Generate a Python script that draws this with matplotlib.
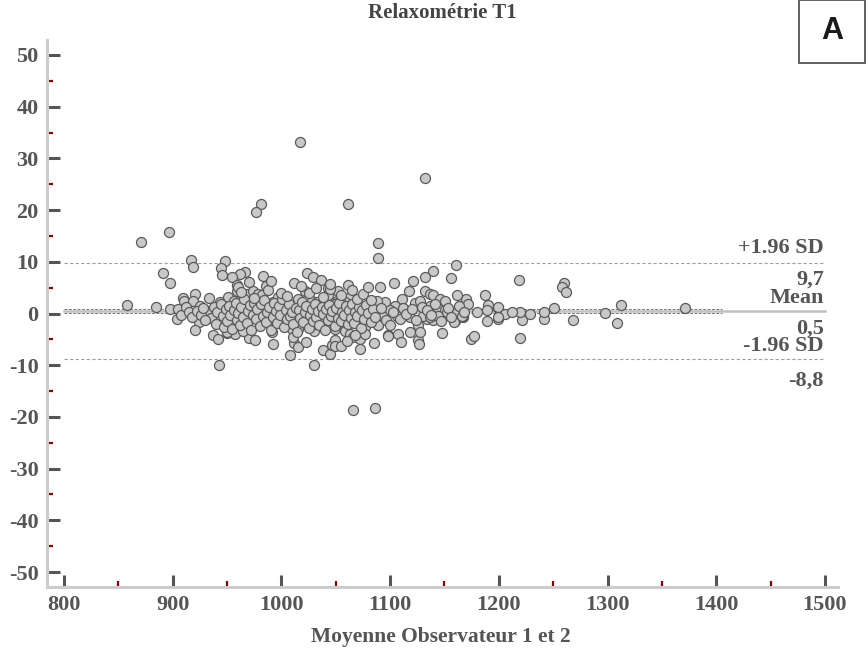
import matplotlib
matplotlib.use("Agg")
import matplotlib.pyplot as plt
from matplotlib.ticker import FixedLocator
from matplotlib.patches import Rectangle

# ---- data (mean of observers, difference) ----
mean_obs = [
    1017, 981, 976.6, 896.6, 870.8, 916.5, 918.9, 948, 944, 945, 890.8, 897.8, 966.5, 962, 955, 959,
    983, 985.8, 1011.6, 1023.8, 1029, 1036, 1042.5,
    1132, 1061.5, 1088.6, 1088.6, 1161, 1139.7, 1132.4, 1156, 1218.6, 1260, 1258.4, 1261.8, 1061.5,
    1090.4, 1103.9, 1120.7, 1117.4, 1052, 1187.5,
    858, 885, 897.5, 904, 924, 920.8, 942.6, 1030, 937.4, 942, 949.6, 957.3, 970, 976, 992.5, 1008,
    1011.8, 1015.5, 1022.6, 1038.6, 1044.7, 1046.8, 1049,
    1065.5, 1086.4, 1085.5, 1097.8, 1107.6, 1110, 1118, 1126, 1127, 1148, 1174, 1177, 1219.5, 1088.6,
    1188.8, 1199.5, 1221.5, 1241.8, 1159.3, 1167.3, 1219.5, 1228.7, 1241.8, 1250.8, 1199, 1190.3,
    1170, 1172, 1161.2,
    1268.6, 1297.7, 1312.4, 1309, 1371.3,
    909.8, 910.4, 920.5, 918.4, 925, 933.4, 943.5, 951, 956.4, 958.8, 966.5, 968, 974, 978.7, 981.8,
    992.5, 997, 1003.3, 1015.5, 1021.7, 1027.8, 1032.4, 1043, 1050.8,
    943.5, 949.7, 965, 964.4, 983.3, 991, 991.6, 1001.8, 1009.5, 1010.3, 1015.6, 1023.3, 1030, 1030,
    1038.6,
    1132, 1136.7, 1139.7, 1145.9, 1150.5, 1136.7, 1142.8, 1150.5, 1122.9, 1127.5, 1110.6, 1104.5,
    1095.3, 1087.7, 1199.5, 1205.7, 1063, 1058.5, 1064.6, 1054, 1049.3, 1044.7,
    1047.7, 1049.3, 1057, 1058.5, 1063, 1066, 1072.3, 1076.9, 1076.9, 1089, 1098.3, 1126, 1127.5,
    1133.6, 1139.7, 1158.8, 1167.3, 1049.3,
    1087.7, 1093.8, 1099.9, 1106, 1109, 1118.3, 1130.5, 1136.7, 1144.3, 1152, 1161.2, 1165.8, 1179.6,
    1188.8, 1199.5, 1211.8,
    932, 935, 938, 940, 941, 944, 946, 947, 949, 950, 952, 953, 955, 956, 958, 959, 960, 962, 963, 965,
    966, 968, 969, 971, 972, 974, 975, 977, 978, 980, 981, 983, 984, 986, 987, 989, 990, 992, 993, 995,
    996, 998, 999, 1001, 1002, 1004, 1005, 1007, 1008, 1010, 1011, 1013, 1014, 1016, 1017, 1019, 1020,
    1022, 1023, 1025, 1026, 1028, 1029, 1031, 1032, 1034, 1035, 1037, 1038, 1040, 1041, 1043, 1044,
    1046, 1047, 1049, 1050, 1052, 1053, 1055, 1056, 1058, 1059, 1061, 1062, 1064, 1065, 1067, 1068,
    1070, 1071, 1073, 1074, 1076, 1078, 1080, 1082, 1084, 1086,
    905, 908, 912, 915, 918, 922, 926, 928, 930,
    1092, 1096, 1100, 1103, 1112, 1115, 1120, 1124, 1129, 1134, 1138, 1141, 1147, 1153, 1156, 1163, 1168,
    960, 963, 970, 975, 988, 990, 1000, 1005, 1018, 1025, 1032, 1038, 1045, 1055, 1065, 1070, 1075,
    1080, 1082,
    1055, 1060, 1068, 1072,
]
diff_obs = [
    33.1, 21.1, 19.7, 15.7, 13.9, 10.4, 9.0, 10.1, 8.8, 7.35, 7.9, 5.9, 8.1, 7.7, 7.0, 5.6,
    7.2, 5.3, 5.9, 7.9, 7.0, 6.4, 5.0,
    26.2, 21.2, 13.6, 10.8, 9.4, 8.3, 7.0, 6.8, 6.4, 5.9, 5.1, 4.1, 5.55,
    5.1, 5.9, 6.2, 4.3, 4.3, 3.5,
    1.7, 1.35, 0.9, -1.16, -1.7, -3.1, -9.9, -9.9, -4.1, -4.9, -3.7, -3.9, -4.7, -5.1, -5.9, -8.1,
    -5.7, -6.4, -5.5, -7.0, -7.9, -6.0, -5.2,
    -18.6, -18.2, -5.7, -4.1, -3.9, -5.5, -3.5, -5.2, -5.9, -3.7, -4.9, -4.4, -4.8, -2.2,
    -1.5, -1.0, -1.35, -1.16, -1.5, -0.6, 0.25, 0.0, 0.25, 1.1, 1.1, 1.7,
    2.8, 1.9, 3.5,
    -1.35, 0.1, 1.7, -1.9, 1.0,
    3.0, 2.4, 3.7, 2.5, 1.5, 3.0, 2.2, 3.2, 2.4, 4.4, 2.5, 3.8, 4.4, 3.8, 3.5,
    2.2, 3.2, 2.2, 2.8, 4.4, 2.5, 2.3, 3.5, 2.4,
    -1.35, -3.6, -1.2, -3.3, -1.7, -2.0, -3.6, -1.35, -3.0, -4.6, -3.0, -1.35, -3.3, -2.0,
    -1.35,
    4.3, 3.8, 3.6, 2.8, 2.5, 1.5, 1.2, 0.6, 2.1, 2.5, 2.8, 1.5,
    2.2, 2.5, 1.2, 0.0, 3.2, 2.2, 1.9, 2.5, 1.9, 4.8,
    -1.7, -3.0, -1.7, -3.3, -3.9, -4.6, -4.9, -2.6, -3.9, -2.3, -4.3, -2.3, -3.6,
    -1.0, -1.35, -1.7, -0.4, -6.2,
    0.25, -0.4, 0.6, -0.4, -1.0, -0.7, -0.4, -0.7, -0.4, 0.25, 0.25, -0.4, 0.25,
    0.6, -0.7, 0.25,
    0.5, -0.8, 1.2, -2.0, 0.2, 1.8, -0.5, -2.6, 0.9, -1.5, 1.5, -0.2, -3.0, 0.6, 2.0, -1.2, 0.1, -2.3, 1.3, -0.6,
    2.8, -1.8, 0.4, 1.6, -3.2, -0.3, 2.1, -1.0, 0.8, -2.5, 1.9, -0.4, 2.6, -1.6, 0.3, 1.2, -3.1, -0.7, 2.0, 0.5,
    -1.9, 1.4, -0.2, 2.9, -2.6, 0.7, -1.1, 1.8, -0.5, 0.2, -2.1, 1.1, -3.5, 0.6, -0.9, 2.2, -1.7,
    0.3, 1.5, -2.8, -0.3, 0.9, -1.4, 1.9, -0.6, 0.4, -2.3, 1.3, -0.1, -3.2, 0.8, -1.2, 1.7,
    -0.4, 0.5, -2.5, 1.0, -0.8, 2.0, -1.5, 0.3, -0.3, 1.4, -2.0, 0.7, -0.9, 1.8, -1.8, 0.2,
    -0.5, 1.2, -2.8, 0.6, -1.1, 1.6, 0.1, -1.6, 0.9, -0.6,
    0.8, -0.3, 1.3, 0.2, -0.6, 0.5, -0.2, 1.0, -1.3,
    1.0, -1.3, -2.2, 0.2, 1.1, -0.1, 0.8, -1.2, 1.3, 0.6, -0.3, 1.9, -1.4, 1.1, -0.6, 1.4, 0.3,
    5.1, 4.2, 6.0, 3.0, 4.6, 6.3, 4.0, 3.4, 5.3, 3.9, 4.9, 3.1, 5.8, 3.6, 4.5, 2.9, 3.8,
    5.2, 2.7,
    -6.3, -5.4, -4.1, -6.8,
]

mean_diff = 0.5
upper_loa = 9.7
lower_loa = -8.8
mean_ci = [0.1, 0.9]

x_ticks = [800, 900, 1000, 1100, 1200, 1300, 1400, 1500]
x_minor = [850, 950, 1050, 1150, 1250, 1350, 1450]
y_ticks = [-50, -40, -30, -20, -10, 0, 10, 20, 30, 40, 50]
y_minor = [-45, -35, -25, -15, -5, 5, 15, 25, 35, 45]

GRAY = "#555555"
SERIF = ["Liberation Serif", "DejaVu Serif"]

fig = plt.figure(figsize=(8.68, 6.54), dpi=100)
ax = fig.add_axes([47 / 868, 67 / 654, (838 - 47) / 868, (587 - 40) / 654])

ax.scatter(mean_obs, diff_obs, s=52, facecolor="#c8c8c8", edgecolor="#5a5a5a",
           linewidths=0.9, zorder=3)

# limits of agreement and mean
ax.plot([800, 1500], [mean_diff, mean_diff], color="#c0c0c0", lw=1.8, zorder=2)
for v in mean_ci:
    ax.plot([800, 1405], [v, v], color="#777777", lw=0.7, ls=(0, (3, 1.5)), zorder=2.5)
for v in (upper_loa, lower_loa):
    ax.plot([800, 1500], [v, v], color="#a0a0a0", lw=0.8, ls=(0, (3, 2)), zorder=2)

lab_kw = dict(ha="right", fontsize=16, fontweight="bold", color=GRAY, family=SERIF)
ax.text(1499, upper_loa + 1.1, "+1.96 SD", va="bottom", **lab_kw)
ax.text(1499, upper_loa - 1.3, "9,7", va="top", **lab_kw)
ax.text(1499, mean_diff + 0.5, "Mean", va="bottom", **lab_kw)
ax.text(1499, mean_diff - 1.4, "0,5", va="top", **lab_kw)
ax.text(1499, lower_loa + 0.6, "-1.96 SD", va="bottom", **lab_kw)
ax.text(1499, lower_loa - 2.2, "-8,8", va="top", **lab_kw)

ax.set_xlim(784.4, 1512)
ax.set_ylim(-52.9, 52.9)

for s in ("top", "right"):
    ax.spines[s].set_visible(False)
for s in ("left", "bottom"):
    ax.spines[s].set_color("#cccccc")
    ax.spines[s].set_linewidth(2.2)

ax.xaxis.set_major_locator(FixedLocator(x_ticks))
ax.xaxis.set_minor_locator(FixedLocator(x_minor))
ax.yaxis.set_major_locator(FixedLocator(y_ticks))
ax.yaxis.set_minor_locator(FixedLocator(y_minor))
ax.set_xticklabels([str(t) for t in x_ticks])
ax.set_yticklabels([str(t) for t in y_ticks])

ax.tick_params(which="major", direction="in", length=9, width=2.2, color=GRAY,
               labelsize=16, labelcolor=GRAY, pad=6)
ax.tick_params(which="minor", direction="in", length=4.5, width=1.6, color="#8b0000")
for lab in ax.get_xticklabels() + ax.get_yticklabels():
    lab.set_fontfamily(SERIF)
    lab.set_fontweight("bold")

fig.text(442 / 868, 1 - 13 / 654, "Relaxométrie T1", ha="center", va="center",
         fontsize=15, fontweight="bold", color="#444444", family=SERIF)
fig.text(441 / 868, 1 - 637 / 654, "Moyenne Observateur 1 et 2", ha="center", va="center",
         fontsize=15.5, fontweight="bold", color=GRAY, family=SERIF)

# panel letter box
fig.patches.append(Rectangle((799 / 868, 1 - 63 / 654), 66 / 868, 63 / 654,
                             transform=fig.transFigure, facecolor="white",
                             edgecolor="#555555", lw=1.3))
fig.text(832 / 868, 1 - 31 / 654, "A", ha="center", va="center", fontsize=22,
         fontweight="bold", color="#1a1a1a", family=["Liberation Sans", "DejaVu Sans"])

fig.savefig("out.png", dpi=100)
